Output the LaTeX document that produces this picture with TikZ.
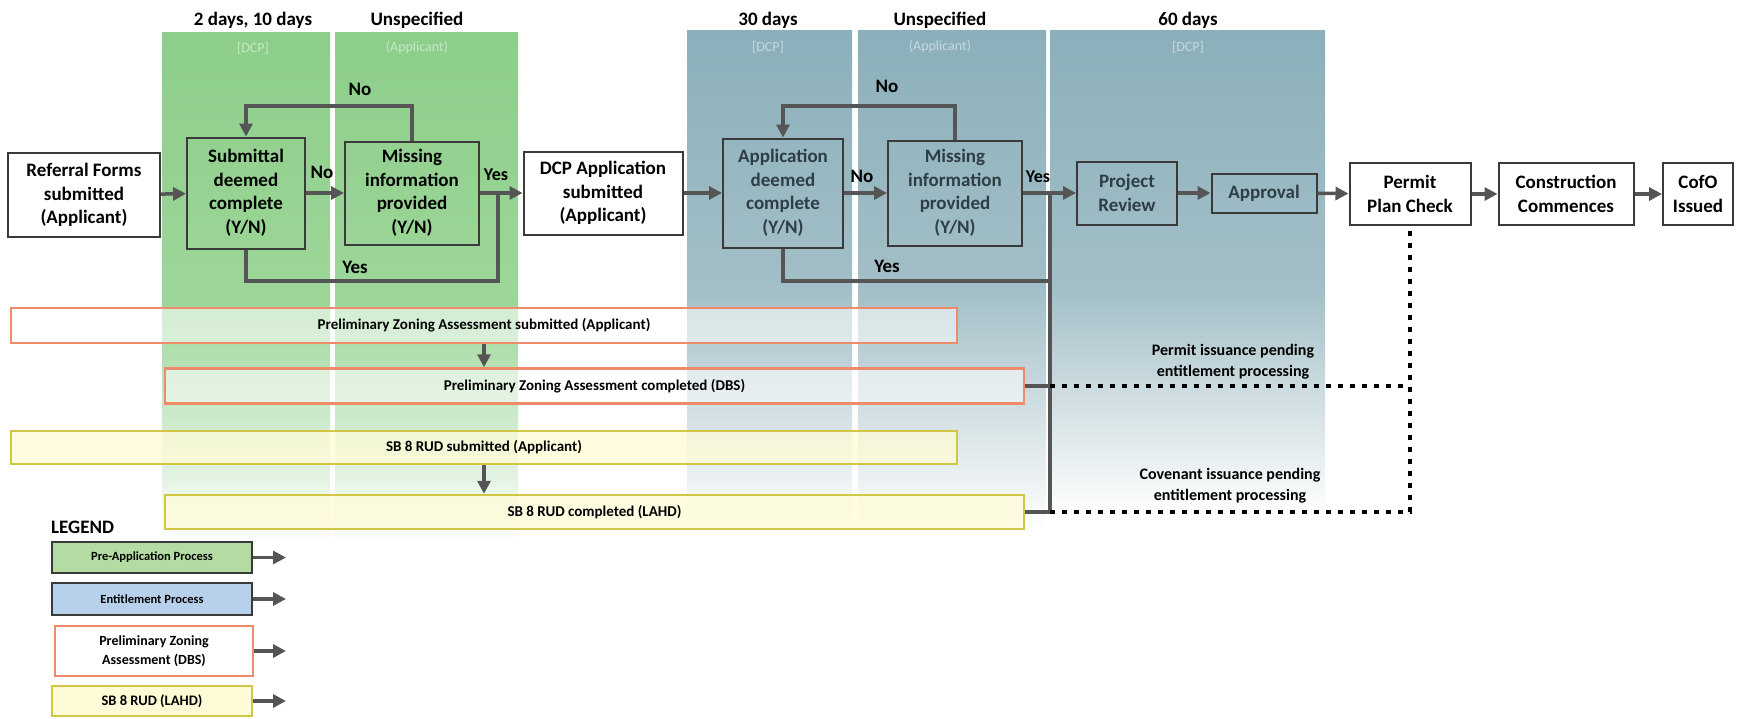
\documentclass[tikz,border=0pt]{standalone}
\usepackage{fontspec}
\setmainfont{Carlito}
\usetikzlibrary{arrows.meta,calc}
\definecolor{grnTop}{HTML}{8DCE8A}
\definecolor{grnMid}{HTML}{9DD699}
\definecolor{grnLow}{HTML}{C4E6C0}
\definecolor{bluTop}{HTML}{8BB0BB}
\definecolor{bluMid}{HTML}{A3BFC7}
\definecolor{bluLow}{HTML}{C9D8DC}
\definecolor{linec}{HTML}{555555}
\definecolor{boxc}{HTML}{3A3A3A}
\definecolor{orng}{HTML}{EE8C6A}
\definecolor{yelb}{HTML}{D2C743}
\definecolor{yelf}{HTML}{FFFBD6}
\definecolor{lgGreen}{HTML}{B3DBA2}
\definecolor{lgBlue}{HTML}{B7D1EC}
\definecolor{bltext}{HTML}{2E3E44}
\tikzset{
  box/.style={draw=boxc, line width=2pt, align=center, inner sep=0pt, font=\fontsize{19}{23.5}\selectfont\bfseries},
  wbox/.style={box, fill=white},
  gbox/.style={box},
  bbox/.style={box, text=bltext},
  conn/.style={draw=linec, line width=3.5pt},
  arr/.style={conn, -{Triangle[length=13pt,width=13pt]}},
  lbl/.style={inner sep=0pt, font=\fontsize{19}{23}\selectfont\bfseries},
  hdr/.style={inner sep=0pt, font=\fontsize{19}{23}\selectfont\bfseries},
  who/.style={inner sep=0pt, font=\fontsize{14}{16}\selectfont, text=white, text opacity=0.5},
  obox/.style={draw=orng, line width=2.5pt, fill=white, fill opacity=0.55, text opacity=1, inner sep=0pt, font=\fontsize{15}{18}\selectfont\bfseries},
  ybox/.style={draw=yelb, line width=2.5pt, fill=yelf, fill opacity=0.75, text opacity=1, inner sep=0pt, font=\fontsize{15}{18}\selectfont\bfseries},
  dotl/.style={draw=black, line width=4.5pt, dash pattern=on 5pt off 7pt},
  note/.style={inner sep=0pt, align=center, font=\fontsize{16}{21}\selectfont\bfseries},
  lgbox/.style={draw=boxc, line width=2.5pt, inner sep=0pt, align=center, font=\fontsize{12.5}{16}\selectfont\bfseries},
  gband/.style={top color=grnTop, bottom color=grnMid, shading angle=0},
}
\begin{document}
\begin{tikzpicture}[x=1pt,y=-1pt]
\useasboundingbox (0,0) rectangle (1754,718);
% bands
\foreach \a/\b in {162/330, 335/518} {
  \shade[top color=grnTop, bottom color=grnMid] (\a,32) rectangle (\b,300.5);
  \shade[top color=grnMid, middle color=grnLow, bottom color=white] (\a,300) rectangle (\b,545);
}
\foreach \a/\b/\c in {687/852/530, 858/1046/530, 1050/1325/515} {
  \shade[top color=bluTop, bottom color=bluMid] (\a,30) rectangle (\b,290.5);
  \shade[top color=bluMid, middle color=bluLow, bottom color=white] (\a,290) rectangle (\b,\c);
}
% headers
\node[hdr] (h1) at (253,20) {2 days, 10 days};
\node[hdr] (h2) at (417,20) {Unspecified};
\node[hdr] (h3) at (768,20) {30 days};
\node[hdr] (h4) at (940,20) {Unspecified};
\node[hdr] (h5) at (1188,20) {60 days};
\node[who] (w1) at (253,48) {[DCP]};
\node[who] (w2) at (417,48) {(Applicant)};
\node[who] (w3) at (768,47) {[DCP]};
\node[who] (w4) at (940,47) {(Applicant)};
\node[who] (w5) at (1188,47) {[DCP]};
% main row
\node[wbox, minimum width=152pt, minimum height=84pt] (ref) at (84,195) {Referral Forms\\submitted\\(Applicant)};
\node[gbox, minimum width=118pt, minimum height=111pt] (sub) at (246,193) {Submittal\\deemed\\complete\\(Y/N)};
\node[gbox, minimum width=134pt, minimum height=103pt] (mis1) at (412,193) {Missing\\information\\provided\\(Y/N)};
\node[wbox, minimum width=159pt, minimum height=83pt] (dcp) at (603,193) {DCP Application\\submitted\\(Applicant)};
\node[bbox, minimum width=120pt, minimum height=109pt] (app) at (783,193) {Application\\deemed\\complete\\(Y/N)};
\node[bbox, minimum width=134pt, minimum height=105pt] (mis2) at (955,193) {Missing\\information\\provided\\(Y/N)};
\node[bbox, minimum width=100pt, minimum height=63pt] (rev) at (1127,193) {Project\\Review};
\node[bbox, minimum width=105pt, minimum height=39pt] (apv) at (1264,193) {Approval};
\node[wbox, minimum width=121pt, minimum height=62pt] (pmt) at (1410,194) {Permit\\Plan Check};
\node[wbox, minimum width=135pt, minimum height=62pt] (con) at (1566,194) {Construction\\Commences};
\node[wbox, minimum width=70pt, minimum height=62pt] (cofo) at (1698,194) {CofO\\Issued};
% main arrows
\draw[arr] (ref) -- (sub);
\draw[arr] (sub) -- (mis1);
\draw[arr] (mis1) -- (dcp);
\draw[arr] (dcp) -- (app);
\draw[arr] (app) -- (mis2);
\draw[arr] (mis2) -- (rev);
\draw[arr] (rev) -- (apv);
\draw[arr] (apv) -- (pmt);
\draw[arr] (pmt) -- (con);
\draw[arr] (con) -- (cofo);
% loops
\coordinate (t1) at (412,106);
\coordinate (t2) at (955,106);
\draw[arr] (mis1.north) -- (t1) -| (sub.north);
\draw[arr] (mis2.north) -- (t2) -| (app.north);
\coordinate (y1) at (498,281);
\draw[conn] (sub.south) |- (y1) -- (y1 |- mis1.east);
\coordinate (j2) at (1050,281);
\draw[conn] (app.south) |- (j2);
% labels
\node[lbl] (no1) at (360,89) {No};
\node[lbl] (no2) at (322,172) {No};
\node[lbl] (yes1) at (355,267) {Yes};
\node[lbl, font=\fontsize{18}{22}\selectfont\bfseries] (yes2) at (496,175) {Yes};
\node[lbl] (no3) at (887,86) {No};
\node[lbl] (no4) at (862,176) {No};
\node[lbl] (yes3) at (887,266) {Yes};
\node[lbl, font=\fontsize{18}{22}\selectfont\bfseries] (yes4) at (1038,177) {Yes};
% assessment boxes
\node[obox, minimum width=946pt, minimum height=35pt] (pza1) at (484,325.5) {Preliminary Zoning Assessment submitted (Applicant)};
\node[obox, minimum width=859pt, minimum height=35pt] (pza2) at (594.5,386) {Preliminary Zoning Assessment completed (DBS)};
\node[ybox, minimum width=946pt, minimum height=33pt] (sb1) at (484,447.5) {SB 8 RUD submitted (Applicant)};
\node[ybox, minimum width=859pt, minimum height=34pt] (sb2) at (594.5,512) {SB 8 RUD completed (LAHD)};
\draw[arr] (pza1.south) -- (pza1.south |- pza2.north);
\draw[arr] (sb1.south) -- (sb1.south |- sb2.north);
% right junction
\coordinate (jt) at (1050,193);
\draw[conn] (jt) -- (jt |- sb2.east);
\draw[conn] (pza2.east) -- (pza2.east -| jt);
\draw[conn] (sb2.east) -- (sb2.east -| jt);
\draw[dotl] (pza2.east -| jt) -- (pza2.east -| pmt.south);
\draw[dotl] (sb2.east -| jt) -- (sb2.east -| pmt.south) -- (pmt.south);
\node[note] (n1) at (1233,362) {Permit issuance pending\\entitlement processing};
\node[note] (n2) at (1230,486) {Covenant issuance pending\\entitlement processing};
% legend
\node[inner sep=0pt, anchor=west, font=\fontsize{19}{22}\selectfont\bfseries] (leg) at (51,527) {LEGEND};
\node[lgbox, fill=lgGreen, minimum width=200pt, minimum height=31pt] (lg1) at (152,557.5) {Pre-Application Process};
\node[lgbox, fill=lgBlue, minimum width=200pt, minimum height=32pt] (lg2) at (152,599) {Entitlement Process};
\node[lgbox, draw=orng, fill=white, minimum width=198pt, minimum height=50pt, font=\fontsize{14}{19}\selectfont\bfseries] (lg3) at (154,651) {Preliminary Zoning\\Assessment (DBS)};
\node[lgbox, draw=yelb, fill=yelf, minimum width=200pt, minimum height=30pt, font=\fontsize{14.5}{17}\selectfont\bfseries] (lg4) at (152,701) {SB 8 RUD (LAHD)};
\coordinate (e1) at (286,557.5);
\coordinate (e2) at (286,599);
\coordinate (e3) at (286,651);
\coordinate (e4) at (286,701);
\draw[arr] (lg1.east) -- (e1);
\draw[arr] (lg2.east) -- (e2);
\draw[arr] (lg3.east) -- (e3);
\draw[arr] (lg4.east) -- (e4);
\end{tikzpicture}
\end{document}
